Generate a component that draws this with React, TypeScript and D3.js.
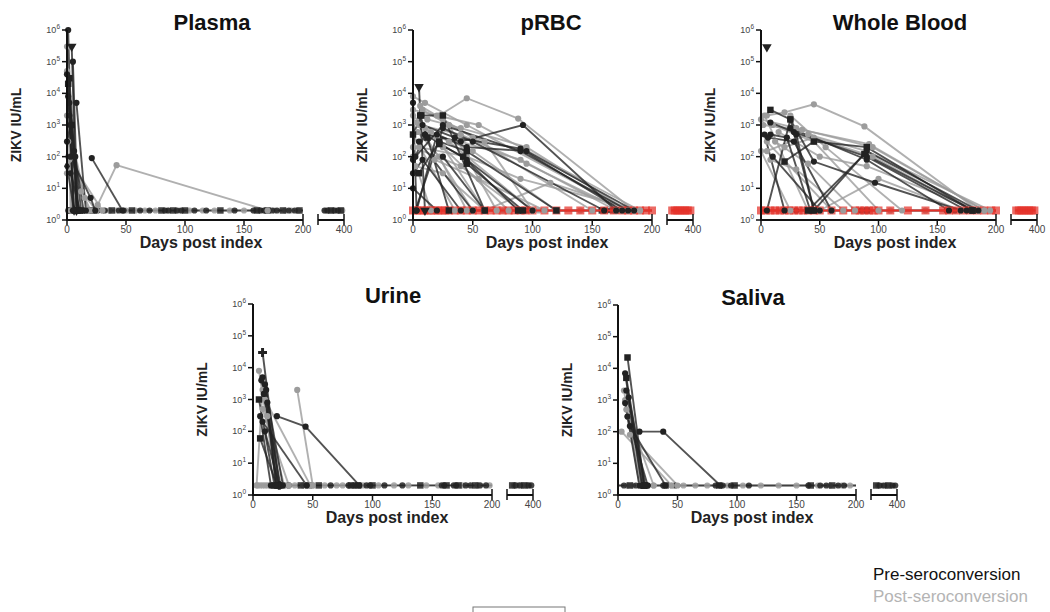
import React from "react";
import * as d3 from "d3";

type Pt = [number, number];
type Series = { g: "pre" | "post"; m: string; p: Pt[] };

const LOD = 2;
const yTickExps = [0, 1, 2, 3, 4, 5, 6];
const xTicks = [0, 50, 100, 150, 200];
const breakLabel = 400;
const legendLabels = ["Pre-seroconversion", "Post-seroconversion"];
const panelTitles = ["Plasma", "pRBC", "Whole Blood", "Urine", "Saliva"];
const yAxisLabel = "ZIKV IU/mL";
const xAxisLabel = "Days post index";

const plasmaSeries: Series[] = [
  { g: "post", m: "circle", p: [[0, 5e4], [4, 2]] },
  { g: "post", m: "circle", p: [[0, 3e5], [3, 2]] },
  { g: "post", m: "circle", p: [[1, 100], [10, 2]] },
  { g: "post", m: "circle", p: [[26, 3], [42, 54], [170, 2]] },
  { g: "post", m: "circle", p: [[0, 2e3], [15, 5], [20, 2]] },
  { g: "post", m: "circle", p: [[2, 80], [30, 2]] },
  { g: "post", m: "circle", p: [[0, 30], [12, 8], [25, 2]] },
  { g: "post", m: "circle", p: [[1, 300], [18, 2]] },
  { g: "pre", m: "tri", p: [[4, 3e5], [8, 2]] },
  { g: "pre", m: "circle", p: [[1, 1e6], [5, 2]] },
  { g: "pre", m: "circle", p: [[1, 8e3], [6, 2]] },
  { g: "pre", m: "square", p: [[2, 3e4], [9, 2]] },
  { g: "pre", m: "circle", p: [[8, 5e3], [16, 2]] },
  { g: "pre", m: "circle", p: [[6, 150], [12, 2]] },
  { g: "pre", m: "circle", p: [[21, 90], [47, 2]] },
  { g: "pre", m: "circle", p: [[0, 300], [3, 1e3], [10, 2]] },
  { g: "pre", m: "square", p: [[1, 2e4], [4, 1e3], [8, 2]] },
  { g: "pre", m: "circle", p: [[3, 100], [20, 5], [24, 2]] },
  { g: "pre", m: "diamond", p: [[0, 50], [6, 2]] },
  { g: "pre", m: "circle", p: [[5, 1e5], [9, 2]] },
  { g: "pre", m: "circle", p: [[2, 5e3], [7, 100], [14, 2]] },
  { g: "pre", m: "circle", p: [[0, 4e4], [2, 2e3], [6, 2]] },
  { g: "pre", m: "circle", p: [[3, 30], [11, 2]] },
];
const plasmaLodPre = [1, 3, 6, 9, 11, 14, 18, 22, 26, 32, 38, 44, 48, 55, 62, 70, 80, 83, 86, 90, 93, 97, 100, 108, 118, 130, 142, 158, 161, 164, 167, 170, 174, 178, 183, 188, 193, 197, 355, 362, 370, 378, 386, 393];
const plasmaLodPost = [2, 5, 8, 12, 16, 20, 24, 30, 36, 42, 50, 58, 66, 75, 85, 95, 104, 115, 125, 138, 150, 162, 168, 176, 185, 190, 196, 358, 366, 374, 382, 390, 396];
const plasmaLodRed: number[] = [];

const prbcSeries: Series[] = [
  { g: "post", m: "circle", p: [[0, 8e3], [10, 5e3], [45, 1e3], [180, 2]] },
  { g: "post", m: "circle", p: [[22, 2e3], [45, 7e3], [88, 1.6e3], [185, 2]] },
  { g: "post", m: "circle", p: [[0, 3e3], [20, 2e3], [55, 1e3], [190, 2]] },
  { g: "post", m: "circle", p: [[5, 1e3], [40, 500], [95, 60], [175, 2]] },
  { g: "post", m: "circle", p: [[0, 2e3], [25, 200], [80, 2]] },
  { g: "post", m: "circle", p: [[10, 800], [30, 300], [100, 2]] },
  { g: "post", m: "circle", p: [[0, 500], [35, 2]] },
  { g: "post", m: "circle", p: [[5, 200], [45, 100], [90, 20], [190, 2]] },
  { g: "post", m: "circle", p: [[0, 100], [15, 2]] },
  { g: "post", m: "circle", p: [[20, 400], [60, 2]] },
  { g: "post", m: "circle", p: [[3, 1.2e3], [50, 2]] },
  { g: "post", m: "circle", p: [[60, 2], [115, 15], [185, 2]] },
  { g: "post", m: "circle", p: [[40, 300], [90, 80], [170, 2]] },
  { g: "post", m: "circle", p: [[8, 3e3], [30, 1e3], [70, 2]] },
  { g: "post", m: "circle", p: [[15, 600], [50, 150], [120, 2]] },
  { g: "post", m: "circle", p: [[2, 50], [25, 30], [60, 2]] },
  { g: "post", m: "circle", p: [[6, 4e3], [25, 1.5e3], [50, 400], [150, 2]] },
  { g: "post", m: "circle", p: [[12, 1.5e3], [40, 800], [95, 200], [180, 2]] },
  { g: "post", m: "circle", p: [[4, 600], [22, 100], [45, 2]] },
  { g: "post", m: "circle", p: [[30, 1e3], [60, 300], [100, 2]] },
  { g: "post", m: "circle", p: [[0, 200], [40, 50], [90, 2]] },
  { g: "post", m: "circle", p: [[18, 80], [55, 20], [110, 2]] },
  { g: "pre", m: "tri", p: [[5, 1.6e4], [10, 2]] },
  { g: "pre", m: "square", p: [[0, 500], [7, 2e3], [25, 2e3], [60, 2]] },
  { g: "pre", m: "circle", p: [[0, 5e3], [3, 2]] },
  { g: "pre", m: "circle", p: [[2, 100], [10, 500], [40, 300], [92, 1e3], [170, 2]] },
  { g: "pre", m: "square", p: [[5, 30], [22, 300], [45, 150], [120, 2]] },
  { g: "pre", m: "circle", p: [[0, 80], [25, 1e3], [90, 150], [180, 2]] },
  { g: "pre", m: "circle", p: [[3, 2], [20, 500], [45, 200], [95, 150], [185, 2]] },
  { g: "pre", m: "square", p: [[22, 250], [42, 100], [88, 2]] },
  { g: "pre", m: "circle", p: [[0, 30], [8, 80], [40, 2]] },
  { g: "pre", m: "circle", p: [[10, 500], [45, 80], [100, 2]] },
  { g: "pre", m: "square", p: [[45, 60], [92, 2]] },
  { g: "pre", m: "circle", p: [[5, 300], [50, 2]] },
  { g: "pre", m: "circle", p: [[25, 100], [60, 2]] },
  { g: "pre", m: "circle", p: [[2, 2], [25, 800], [50, 300], [160, 2]] },
  { g: "pre", m: "square", p: [[6, 2e3], [12, 400], [30, 2]] },
  { g: "pre", m: "circle", p: [[0, 10], [20, 2]] },
  { g: "pre", m: "circle", p: [[8, 1e3], [35, 400], [90, 180], [175, 2]] },
];
const prbcLodPre = [48, 88, 92, 96, 158, 162, 166, 170, 178];
const prbcLodPost = [20, 40, 75, 105, 140, 185];
const prbcLodRed = [0, 3, 6, 9, 12, 15, 18, 21, 24, 27, 30, 35, 40, 45, 50, 55, 60, 65, 70, 75, 80, 85, 90, 94, 100, 110, 120, 130, 140, 150, 160, 168, 175, 180, 185, 190, 195, 200, 352, 358, 364, 370, 376, 382, 388, 394];

const wbSeries: Series[] = [
  { g: "post", m: "circle", p: [[5, 2e3], [20, 2.5e3], [45, 4.5e3], [88, 900], [185, 2]] },
  { g: "post", m: "circle", p: [[0, 1.5e3], [30, 800], [95, 200], [190, 2]] },
  { g: "post", m: "circle", p: [[5, 150], [40, 500], [90, 150], [195, 2]] },
  { g: "post", m: "circle", p: [[10, 1e3], [45, 300], [100, 2]] },
  { g: "post", m: "circle", p: [[0, 150], [25, 2]] },
  { g: "post", m: "circle", p: [[5, 300], [60, 2]] },
  { g: "post", m: "circle", p: [[20, 200], [45, 400], [95, 100], [180, 2]] },
  { g: "post", m: "circle", p: [[3, 2e3], [40, 2]] },
  { g: "post", m: "circle", p: [[50, 2], [100, 20], [170, 2]] },
  { g: "post", m: "circle", p: [[15, 600], [50, 100], [90, 50], [185, 2]] },
  { g: "post", m: "circle", p: [[8, 80], [30, 40], [70, 2]] },
  { g: "post", m: "circle", p: [[2, 1e3], [35, 700], [92, 250], [190, 2]] },
  { g: "post", m: "circle", p: [[12, 300], [40, 60], [80, 2]] },
  { g: "post", m: "circle", p: [[25, 2e3], [55, 200], [120, 2]] },
  { g: "pre", m: "tri", p: [[5, 2.9e5]] },
  { g: "pre", m: "square", p: [[8, 3e3], [25, 1.5e3], [45, 2]] },
  { g: "pre", m: "circle", p: [[8, 500], [22, 400], [42, 2]] },
  { g: "pre", m: "circle", p: [[8, 1.2e3], [28, 600], [90, 100], [175, 2]] },
  { g: "pre", m: "square", p: [[20, 70], [45, 300], [90, 200], [180, 2]] },
  { g: "pre", m: "circle", p: [[5, 2], [25, 1.5e3], [45, 70], [97, 15], [170, 2]] },
  { g: "pre", m: "circle", p: [[3, 500], [20, 2]] },
  { g: "pre", m: "circle", p: [[30, 500], [45, 2], [90, 150], [185, 2]] },
  { g: "pre", m: "circle", p: [[10, 100], [50, 2]] },
  { g: "pre", m: "square", p: [[40, 2], [88, 120], [180, 2]] },
  { g: "pre", m: "circle", p: [[25, 800], [90, 80], [160, 2]] },
  { g: "pre", m: "circle", p: [[6, 400], [28, 300], [60, 2]] },
];
const wbLodPre = [30, 40, 45, 85, 90, 158, 165];
const wbLodPost = [15, 60, 110, 140, 190];
const wbLodRed = [0, 4, 8, 12, 16, 20, 24, 28, 32, 36, 40, 45, 50, 60, 70, 80, 84, 88, 92, 96, 100, 110, 125, 140, 155, 160, 166, 172, 178, 184, 190, 196, 200, 352, 358, 364, 370, 376, 382, 388, 394];

const urineSeries: Series[] = [
  { g: "post", m: "circle", p: [[5, 8e3], [20, 2]] },
  { g: "post", m: "circle", p: [[37, 2e3], [50, 2]] },
  { g: "post", m: "circle", p: [[8, 500], [30, 2]] },
  { g: "post", m: "circle", p: [[10, 1e3], [48, 2]] },
  { g: "post", m: "circle", p: [[3, 2], [8, 2e3], [20, 2]] },
  { g: "post", m: "circle", p: [[12, 300], [26, 2]] },
  { g: "pre", m: "plus", p: [[8, 3e4], [22, 2]] },
  { g: "pre", m: "circle", p: [[8, 5e3], [20, 2]] },
  { g: "pre", m: "square", p: [[5, 1e3], [18, 2]] },
  { g: "pre", m: "circle", p: [[6, 300], [15, 2]] },
  { g: "pre", m: "square", p: [[6, 60], [20, 2]] },
  { g: "pre", m: "circle", p: [[10, 3e3], [25, 2]] },
  { g: "pre", m: "circle", p: [[20, 300], [44, 140], [89, 2]] },
  { g: "pre", m: "circle", p: [[8, 200], [45, 2]] },
  { g: "pre", m: "circle", p: [[10, 100], [22, 2]] },
  { g: "pre", m: "circle", p: [[9, 1.5e3], [23, 2]] },
  { g: "pre", m: "circle", p: [[7, 4e3], [12, 800], [21, 2]] },
  { g: "pre", m: "circle", p: [[11, 2e3], [19, 2]] },
];
const urineLodPre = [20, 22, 25, 30, 40, 45, 48, 55, 65, 80, 82, 84, 86, 88, 95, 98, 100, 110, 125, 140, 158, 160, 162, 168, 170, 172, 178, 182, 186, 190, 195, 352, 360, 370, 380, 390, 396];
const urineLodPost = [4, 6, 8, 10, 12, 14, 16, 18, 23, 28, 35, 42, 50, 60, 70, 75, 92, 105, 118, 130, 145, 155, 175, 188, 198, 356, 366, 376, 386];
const urineLodRed: number[] = [];

const salivaSeries: Series[] = [
  { g: "post", m: "circle", p: [[3, 100], [45, 2]] },
  { g: "post", m: "circle", p: [[7, 500], [30, 2]] },
  { g: "post", m: "circle", p: [[6, 1e3], [20, 2]] },
  { g: "post", m: "circle", p: [[10, 80], [50, 2]] },
  { g: "post", m: "circle", p: [[8, 300], [20, 2]] },
  { g: "post", m: "circle", p: [[5, 2e3], [18, 2]] },
  { g: "pre", m: "square", p: [[8, 2.2e4], [22, 2]] },
  { g: "pre", m: "circle", p: [[6, 7e3], [20, 2]] },
  { g: "pre", m: "circle", p: [[7, 2e3], [21, 2]] },
  { g: "pre", m: "circle", p: [[6, 800], [18, 2]] },
  { g: "pre", m: "circle", p: [[18, 100], [38, 100], [86, 2]] },
  { g: "pre", m: "circle", p: [[8, 300], [25, 2]] },
  { g: "pre", m: "square", p: [[7, 5e3], [22, 2]] },
  { g: "pre", m: "circle", p: [[10, 150], [40, 2]] },
  { g: "pre", m: "circle", p: [[9, 1.2e3], [23, 2]] },
];
const salivaLodPre = [5, 10, 15, 20, 22, 25, 38, 40, 48, 82, 85, 88, 95, 98, 110, 160, 162, 170, 175, 180, 185, 190, 352, 360, 370, 380, 390, 396];
const salivaLodPost = [8, 12, 18, 30, 45, 55, 65, 75, 92, 105, 120, 135, 150, 168, 178, 188, 195, 356, 366, 376, 386];
const salivaLodRed: number[] = [];

const DARK = "#222222";
const GRAY = "#9c9c9c";
const RED = "#e5322a";
const FONT = "'Liberation Sans', Arial, sans-serif";

const symbolTypes: Record<string, d3.SymbolType> = {
  circle: d3.symbolCircle,
  square: d3.symbolSquare,
  tri: d3.symbolTriangle,
  diamond: d3.symbolDiamond,
  plus: d3.symbolCross,
};
const symbolSizes: Record<string, number> = { circle: 30, square: 42, tri: 40, diamond: 32, plus: 44 };

type PanelProps = {
  title: string;
  x0: number;
  x200: number;
  yTop: number;
  yBot: number;
  titleX: number;
  titleY: number;
  series: Series[];
  lodPre: number[];
  lodPost: number[];
  lodRed: number[];
};

function Panel(props: PanelProps) {
  const { title, x0, x200, yTop, yBot, titleX, titleY, series, lodPre, lodPost, lodRed } = props;
  const xMain = d3.scaleLinear().domain([0, 200]).range([x0, x200]);
  const xBrk = d3.scaleLinear().domain([340, 400]).range([x200 + 15, x200 + 41]);
  const xp = (d: number) => (d <= 200 ? xMain(d) : xBrk(d));
  const y = d3.scaleLog().domain([1, 1e6]).range([yBot, yTop]);
  const line = d3
    .line<Pt>()
    .x((d) => xp(d[0]))
    .y((d) => y(d[1]));
  const ordered = [...series.filter((s) => s.g === "post"), ...series.filter((s) => s.g === "pre")];
  const sym = (m: string) => d3.symbol().type(symbolTypes[m]).size(symbolSizes[m])() as string;
  const yLod = y(LOD);
  const hasRed = lodRed.length > 0;

  return (
    <g>
      <text x={titleX} y={titleY} textAnchor="middle" fontFamily={FONT} fontWeight="bold" fontSize={22} fill="#111">
        {title}
      </text>
      <text
        transform={`translate(${x0 - 46},${(yTop + yBot) / 2}) rotate(-90)`}
        textAnchor="middle"
        fontFamily={FONT}
        fontWeight="bold"
        fontSize={14}
        fill="#222"
      >
        {yAxisLabel}
      </text>
      <text x={x0 + 134} y={yBot + 28} textAnchor="middle" fontFamily={FONT} fontWeight="bold" fontSize={16} fill="#222">
        {xAxisLabel}
      </text>

      {/* baseline lines */}
      <line x1={xMain(0)} x2={xMain(200)} y1={yLod} y2={yLod} stroke={GRAY} strokeWidth={3} opacity={0.7} />
      <line x1={xMain(0)} x2={xMain(200)} y1={yLod} y2={yLod} stroke={DARK} strokeWidth={1.4} opacity={0.8} />
      <line x1={xBrk(350)} x2={xBrk(396)} y1={yLod} y2={yLod} stroke={DARK} strokeWidth={1.6} opacity={0.8} />

      {/* series lines */}
      {ordered.map((s, i) => (
        <path
          key={"l" + i}
          d={line(s.p) || ""}
          fill="none"
          stroke={s.g === "pre" ? DARK : GRAY}
          strokeWidth={1.9}
          opacity={s.g === "pre" ? 0.78 : 0.8}
        />
      ))}

      {/* LOD points */}
      {lodPost.map((d, i) => (
        <path key={"bp" + i} d={sym("circle")} transform={`translate(${xp(d)},${yLod})`} fill={GRAY} opacity={0.85} />
      ))}
      {lodPre.map((d, i) => (
        <path
          key={"bd" + i}
          d={sym(i % 3 === 1 ? "square" : "circle")}
          transform={`translate(${xp(d)},${yLod})`}
          fill={DARK}
          opacity={0.85}
        />
      ))}
      {hasRed && (
        <g>
          <line x1={xMain(0)} x2={xMain(200)} y1={yLod} y2={yLod} stroke={RED} strokeWidth={2} />
          <line x1={xBrk(350)} x2={xBrk(396)} y1={yLod} y2={yLod} stroke={RED} strokeWidth={2} />
          {lodRed.map((d, i) => (
            <rect key={"r" + i} x={xp(d) - 4} y={yLod - 4} width={8} height={8} fill={RED} opacity={0.72} />
          ))}
        </g>
      )}

      {/* series markers */}
      {ordered.map((s, i) =>
        s.p.map((pt, j) => (
          <path
            key={"m" + i + "_" + j}
            d={sym(s.m)}
            transform={`translate(${xp(pt[0])},${y(pt[1])})${s.m === "tri" ? " rotate(180)" : ""}`}
            fill={s.g === "pre" ? DARK : GRAY}
          />
        ))
      )}

      {/* y axis */}
      <line x1={x0} x2={x0} y1={yTop} y2={yBot + 1} stroke="#111" strokeWidth={2} />
      {yTickExps.map((e) => (
        <g key={"yt" + e}>
          <line x1={x0 - 5} x2={x0} y1={y(Math.pow(10, e))} y2={y(Math.pow(10, e))} stroke="#111" strokeWidth={1.5} />
          <text x={x0 - 7} y={y(Math.pow(10, e)) + 3} textAnchor="end" fontFamily={FONT} fontSize={9} fill="#444">
            10<tspan dy={-4} fontSize={6.5}>{e}</tspan>
          </text>
        </g>
      ))}

      {/* x axis */}
      <line x1={x0 - 1} x2={x200} y1={yBot} y2={yBot} stroke="#111" strokeWidth={2} />
      {xTicks.map((t) => (
        <g key={"xt" + t}>
          <line x1={xMain(t)} x2={xMain(t)} y1={t === 200 ? yBot - 6 : yBot} y2={yBot + 5} stroke="#111" strokeWidth={1.5} />
          <text x={xMain(t)} y={yBot + 13} textAnchor="middle" fontFamily={FONT} fontSize={10} fill="#444">
            {t}
          </text>
        </g>
      ))}
      <line x1={xBrk(340)} x2={xBrk(400)} y1={yBot} y2={yBot} stroke="#111" strokeWidth={2} />
      <line x1={xBrk(340)} x2={xBrk(340)} y1={yBot - 6} y2={yBot + 5} stroke="#111" strokeWidth={1.5} />
      <line x1={xBrk(400)} x2={xBrk(400)} y1={yBot - 6} y2={yBot + 5} stroke="#111" strokeWidth={1.5} />
      <text x={xBrk(400)} y={yBot + 13} textAnchor="middle" fontFamily={FONT} fontSize={10} fill="#444">
        {breakLabel}
      </text>
    </g>
  );
}

export default function App() {
  const panels: PanelProps[] = [
    { title: panelTitles[0], x0: 67, x200: 303, yTop: 30, yBot: 220, titleX: 212, titleY: 30, series: plasmaSeries, lodPre: plasmaLodPre, lodPost: plasmaLodPost, lodRed: plasmaLodRed },
    { title: panelTitles[1], x0: 413, x200: 652, yTop: 30, yBot: 220, titleX: 551, titleY: 30, series: prbcSeries, lodPre: prbcLodPre, lodPost: prbcLodPost, lodRed: prbcLodRed },
    { title: panelTitles[2], x0: 761, x200: 996, yTop: 30, yBot: 220, titleX: 900, titleY: 30, series: wbSeries, lodPre: wbLodPre, lodPost: wbLodPost, lodRed: wbLodRed },
    { title: panelTitles[3], x0: 253, x200: 492, yTop: 304, yBot: 495, titleX: 393, titleY: 303, series: urineSeries, lodPre: urineLodPre, lodPost: urineLodPost, lodRed: urineLodRed },
    { title: panelTitles[4], x0: 618, x200: 856, yTop: 305, yBot: 495, titleX: 753, titleY: 305, series: salivaSeries, lodPre: salivaLodPre, lodPost: salivaLodPost, lodRed: salivaLodRed },
  ];
  return (
    <svg width={1050} height={612} style={{ position: "absolute", left: 0, top: 0, background: "#fff" }}>
      <rect x={0} y={0} width={1050} height={612} fill="#fff" />
      {panels.map((p) => (
        <Panel key={p.title} {...p} />
      ))}
      <text x={873} y={580} fontFamily={FONT} fontSize={17} fill="#111">
        {legendLabels[0]}
      </text>
      <text x={873} y={602} fontFamily={FONT} fontSize={17} fill="#b4b4b4">
        {legendLabels[1]}
      </text>
      <rect x={473} y={607} width={92} height={20} fill="none" stroke="#777" strokeWidth={1} />
    </svg>
  );
}
